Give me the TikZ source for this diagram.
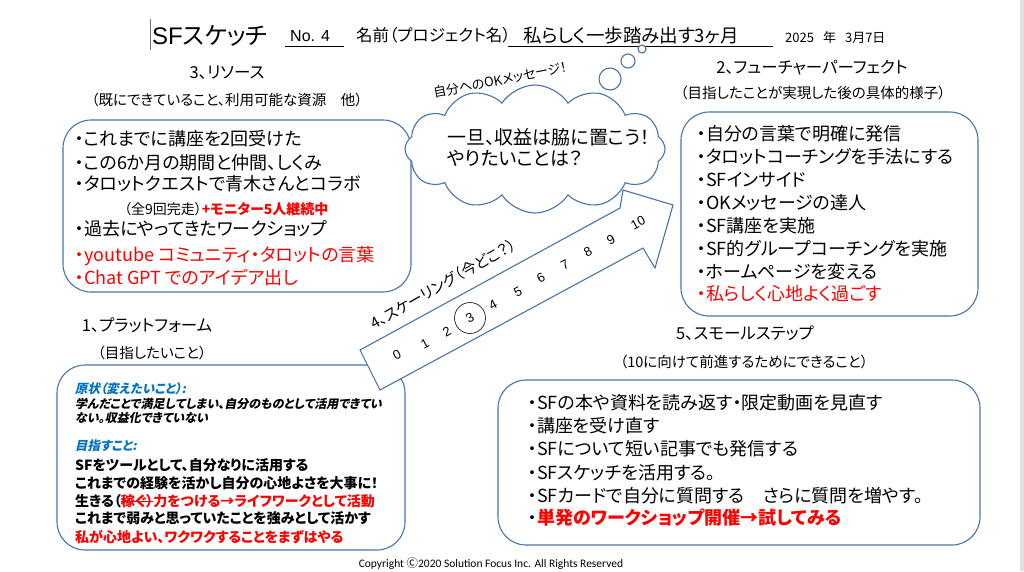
\documentclass[tikz,border=0pt]{standalone}
\usepackage{fontspec}
\setmainfont{Noto Sans CJK JP}[RawFeature=+palt]
\newfontfamily\jpsl{Noto Sans CJK JP}[RawFeature=+palt, FakeSlant=0.2]
\newfontfamily\calfont{Carlito}
\newfontfamily\arl{Liberation Sans}
\usetikzlibrary{shapes.symbols}
\definecolor{boxblue}{HTML}{4A74A8}
\definecolor{lblblue}{HTML}{0070C0}
\definecolor{redtxt}{HTML}{FF0000}
\newcommand\myfs[1]{\fontsize{#1}{#1}\selectfont}
\newcommand\mystrike[1]{\setbox0\hbox{#1}\rlap{\color{redtxt}\rule[0.32em]{\wd0}{0.7pt}}\box0}
\tikzset{
  rbox/.style={draw=boxblue, line width=1.1pt, rounded corners=28pt, fill=white},
  txt/.style={anchor=base west, inner sep=0pt},
  ctr/.style={anchor=base, inner sep=0pt},
  boxtxt/.style={txt, font=\myfs{18}},
  ttl/.style={ctr, font=\myfs{16.5}},
  sub/.style={ctr, font=\myfs{14.5}},
  num/.style={inner sep=0pt, font=\arl\myfs{13}, rotate=28.5},
  pltxt/.style={txt, font=\bfseries\myfs{14}},
}
\begin{document}
\begin{tikzpicture}[x=1pt,y=-1pt]
\useasboundingbox (0,0) rectangle (1024,571);
\fill[white] (0,0) rectangle (1024,571);
\fill[black!12] (1020,0) rectangle (1024,571);

% header
\draw[black!55, line width=0.9pt] (150,19) -- (150,50);
\node[txt, font=\myfs{24}] (hsf) at (152,44) {{\arl SF}スケッチ};
\node[txt, font=\arl\myfs{16}] (hno) at (290,41) {No. 4};
\draw[line width=0.8pt] (285,46) -- (344,46);
\node[txt, font=\myfs{16.5}] (hname) at (356,41) {名前（プロジェクト名）};
\node[txt, font=\myfs{18.5}] (hproj) at (523,42) {私らしく一歩踏み出す3ヶ月};
\draw[line width=0.8pt] (508,46) -- (773,46);
\node[txt, font=\myfs{13}] (hdate) at (785,42) {2025\hspace{9pt}年\hspace{9pt}3月7日};

% section titles
\node[ttl] (t3) at (227,78) {3、リソース};
\node[sub] (s3) at (227,105) {（既にできていること、利用可能な資源　他）};
\node[ttl] (t2) at (812,73) {2、フューチャーパーフェクト};
\node[sub] (s2) at (813,98) {（目指したことが実現した後の具体的様子）};
\node[ttl] (t1) at (147,331) {1、プラットフォーム};
\node[sub] (s1) at (152,358) {（目指したいこと）};
\node[ttl] (t5) at (745,339) {5、スモールステップ};
\node[sub] (s5) at (744,367) {（10に向けて前進するためにできること）};

% boxes
\draw[rbox] (63,120) rectangle (411,292);
\draw[rbox] (681,112) rectangle (978,316);
\draw[rbox] (57,365) rectangle (405,550);
\draw[rbox] (498,380) rectangle (980,545);

% resources
\node[boxtxt] (r1) at (75,145) {・これまでに講座を2回受けた};
\node[boxtxt] (r2) at (75,169) {・この6か月の期間と仲間、しくみ};
\node[boxtxt] (r3) at (75,190) {・タロットクエストで青木さんとコラボ};
\node[txt, font=\myfs{14}] (r4) at (124,214) {（全9回完走）{\color{redtxt}\bfseries +モニター5人継続中}};
\node[boxtxt] (r5) at (75,235) {・過去にやってきたワークショップ};
\node[boxtxt, text=redtxt] (r6) at (75,261) {・youtube コミュニティ・タロットの言葉};
\node[boxtxt, text=redtxt] (r7) at (75,284) {・Chat GPT でのアイデア出し};

% future perfect
\node[boxtxt] (f1) at (697,140) {・自分の言葉で明確に発信};
\node[boxtxt] (f2) at (697,163) {・タロットコーチングを手法にする};
\node[boxtxt] (f3) at (697,186) {・SFインサイド};
\node[boxtxt] (f4) at (697,209) {・OKメッセージの達人};
\node[boxtxt] (f5) at (697,232) {・SF講座を実施};
\node[boxtxt] (f6) at (697,255) {・SF的グループコーチングを実施};
\node[boxtxt] (f7) at (697,278) {・ホームページを変える};
\node[boxtxt, text=redtxt] (f8) at (697,300) {・私らしく心地よく過ごす};

% small steps
\node[boxtxt] (m1) at (528,409) {・SFの本や資料を読み返す・限定動画を見直す};
\node[boxtxt] (m2) at (528,432) {・講座を受け直す};
\node[boxtxt] (m3) at (528,455) {・SFについて短い記事でも発信する};
\node[boxtxt] (m4) at (528,479) {・SFスケッチを活用する。};
\node[boxtxt] (m5) at (528,502) {・SFカードで自分に質問する　さらに質問を増やす。};
\node[boxtxt] (m6) at (528,524) {・{\color{redtxt}\bfseries 単発のワークショップ開催→試してみる}};

% platform
\node[txt, font=\jpsl\bfseries\myfs{12.5}, text=lblblue] (p1) at (75,393) {原状（変えたいこと）:};
\node[txt, font=\jpsl\bfseries\myfs{12}] (p2) at (75,408) {学んだことで満足してしまい、自分のものとして活用できてい};
\node[txt, font=\jpsl\bfseries\myfs{12}] (p3) at (75,422) {ない。収益化できていない};
\node[txt, font=\jpsl\bfseries\myfs{12.5}, text=lblblue] (p4) at (75,450) {目指すこと:};
\node[pltxt] (p5) at (75,470) {SFをツールとして、自分なりに活用する};
\node[pltxt] (p6) at (75,488) {これまでの経験を活かし自分の心地よさを大事に！};
\node[pltxt] (p7) at (75,506) {生きる（\mystrike{\color{redtxt}稼ぐ）}力をつける{\color{redtxt}→ライフワークとして活動}};
\node[pltxt] (p8) at (75,523) {これまで弱みと思っていたことを強みとして活かす};
\node[pltxt, text=redtxt] (p9) at (75,542) {私が心地よい、ワクワクすることをまずはやる};

% scaling arrow
\draw[draw=boxblue, line width=1.1pt, fill=white, line join=miter]
  (360,350) -- (620,208) -- (623,190) -- (673,205) -- (655,268) -- (643,248) -- (380,390) -- cycle;
\node[num] (n0) at (397,355) {0};
\node[num] (n1) at (425,344) {1};
\node[num] (n2) at (447,332) {2};
\node[num] (n3) at (470,318) {3};
\node[draw=black!80, line width=0.8pt, circle, minimum size=31pt, inner sep=0pt] (c3) at (n3) {};
\node[num] (n4) at (493,305) {4};
\node[num] (n5) at (518,292) {5};
\node[num] (n6) at (541,278) {6};
\node[num] (n7) at (565,265) {7};
\node[num] (n8) at (588,252) {8};
\node[num] (n9) at (611,240) {9};
\node[num] (n10) at (638,223) {10};
\node[inner sep=0pt, font=\myfs{15}, rotate=29.5] (sc) at (443,284) {4、スケーリング（今どこ？）};

% thought cloud
\node[cloud, cloud puffs=12, cloud puff arc=115, cloud ignores aspect, draw=boxblue, line width=1.1pt, fill=white, minimum width=260pt, minimum height=128pt] (cl) at (535,149) {};
\node[txt, font=\myfs{19}] (cl1) at (447,144) {一旦、収益は脇に置こう！};
\node[txt, font=\myfs{19}] (cl2) at (447,165) {やりたいことは？};
\node[circle, draw=boxblue, line width=1.1pt, fill=white, minimum size=22pt, inner sep=0pt] (b1) at (610,79) {};
\node[circle, draw=boxblue, line width=1.1pt, fill=white, minimum size=14pt, inner sep=0pt] (b2) at (628,61) {};
\node[circle, draw=boxblue, line width=1.1pt, fill=white, minimum size=8pt, inner sep=0pt] (b3) at (642,49) {};
\node[inner sep=0pt, font=\myfs{13}, rotate=11] (ok) at (500,80) {自分へのOKメッセージ！};

% footer
\node[ctr, font=\calfont\myfs{11.5}] (foot) at (491,567) {Copyright {\rmfamily Ⓒ}2020 Solution Focus Inc. All Rights Reserved};
\end{tikzpicture}
\end{document}
